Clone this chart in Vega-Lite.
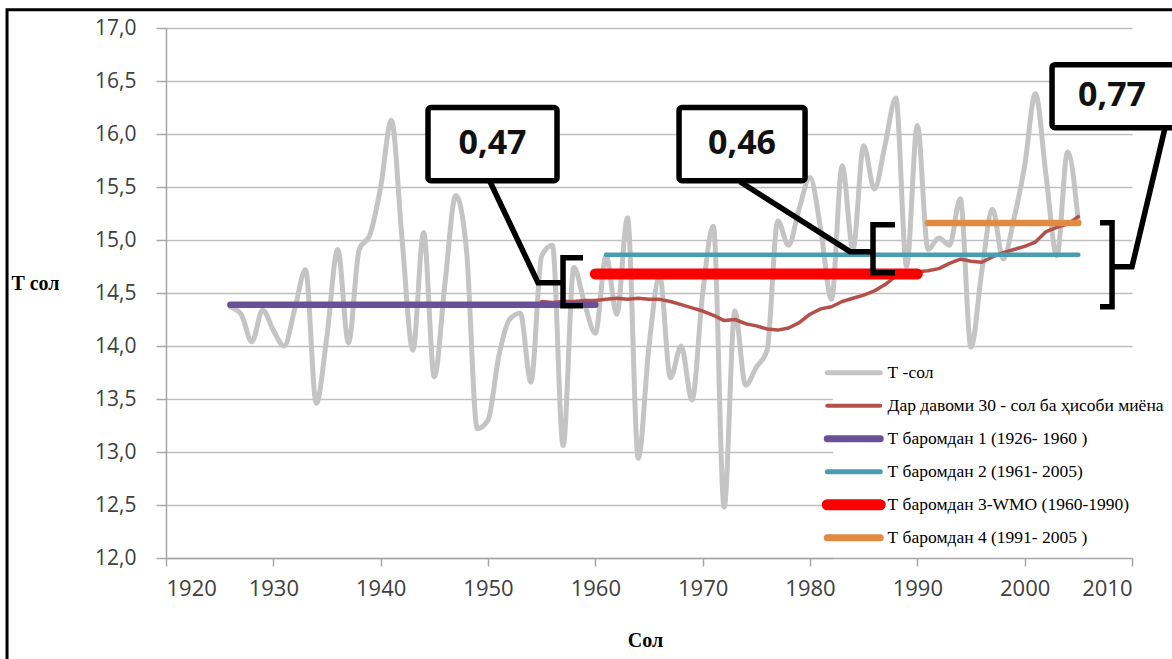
{
  "$schema": "https://vega.github.io/schema/vega-lite/v6.json",
  "width": 966,
  "height": 530,
  "autosize": {"type": "none"},
  "padding": {"left": 166, "top": 28, "right": 40, "bottom": 101},
  "background": "white",
  "config": {
    "view": {"stroke": null},
    "legend": {
      "orient": "none",
      "legendX": 667,
      "legendY": 324,
      "fillColor": "#ffffff",
      "padding": 12,
      "symbolType": "stroke",
      "symbolSize": 2809,
      "labelFont": "Liberation Serif",
      "labelFontSize": 17.5,
      "labelColor": "#000000",
      "labelOffset": 25,
      "gridAlign": "all",
      "rowPadding": -12,
      "labelLimit": 400
    }
  },
  "datasets": {
    "lines": [
      {"series": "T", "year": 1926, "t": 14.37}, {"series": "T", "year": 1927, "t": 14.30}, {"series": "T", "year": 1928, "t": 14.04}, {"series": "T", "year": 1929, "t": 14.34}, {"series": "T", "year": 1930, "t": 14.15},
      {"series": "T", "year": 1931, "t": 14.00}, {"series": "T", "year": 1932, "t": 14.35}, {"series": "T", "year": 1933, "t": 14.72}, {"series": "T", "year": 1934, "t": 13.46}, {"series": "T", "year": 1935, "t": 14.10},
      {"series": "T", "year": 1936, "t": 14.91}, {"series": "T", "year": 1937, "t": 14.03}, {"series": "T", "year": 1938, "t": 14.91}, {"series": "T", "year": 1939, "t": 15.05}, {"series": "T", "year": 1940, "t": 15.50},
      {"series": "T", "year": 1941, "t": 16.13}, {"series": "T", "year": 1942, "t": 15.00}, {"series": "T", "year": 1943, "t": 13.96}, {"series": "T", "year": 1944, "t": 15.07}, {"series": "T", "year": 1945, "t": 13.71},
      {"series": "T", "year": 1946, "t": 14.60}, {"series": "T", "year": 1947, "t": 15.42}, {"series": "T", "year": 1948, "t": 14.90}, {"series": "T", "year": 1949, "t": 13.22}, {"series": "T", "year": 1950, "t": 13.30},
      {"series": "T", "year": 1951, "t": 13.90}, {"series": "T", "year": 1952, "t": 14.25}, {"series": "T", "year": 1953, "t": 14.31}, {"series": "T", "year": 1954, "t": 13.66}, {"series": "T", "year": 1955, "t": 14.85},
      {"series": "T", "year": 1956, "t": 14.95}, {"series": "T", "year": 1957, "t": 13.06}, {"series": "T", "year": 1958, "t": 14.74}, {"series": "T", "year": 1959, "t": 14.40}, {"series": "T", "year": 1960, "t": 14.12},
      {"series": "T", "year": 1961, "t": 14.85}, {"series": "T", "year": 1962, "t": 14.30}, {"series": "T", "year": 1963, "t": 15.21}, {"series": "T", "year": 1964, "t": 12.94}, {"series": "T", "year": 1965, "t": 14.00},
      {"series": "T", "year": 1966, "t": 14.66}, {"series": "T", "year": 1967, "t": 13.70}, {"series": "T", "year": 1968, "t": 14.00}, {"series": "T", "year": 1969, "t": 13.49}, {"series": "T", "year": 1970, "t": 14.50},
      {"series": "T", "year": 1971, "t": 15.13}, {"series": "T", "year": 1972, "t": 12.48}, {"series": "T", "year": 1973, "t": 14.33}, {"series": "T", "year": 1974, "t": 13.63}, {"series": "T", "year": 1975, "t": 13.80},
      {"series": "T", "year": 1976, "t": 13.96}, {"series": "T", "year": 1977, "t": 15.18}, {"series": "T", "year": 1978, "t": 14.95}, {"series": "T", "year": 1979, "t": 15.30}, {"series": "T", "year": 1980, "t": 15.59},
      {"series": "T", "year": 1981, "t": 15.10}, {"series": "T", "year": 1982, "t": 14.44}, {"series": "T", "year": 1983, "t": 15.70}, {"series": "T", "year": 1984, "t": 14.91}, {"series": "T", "year": 1985, "t": 15.89},
      {"series": "T", "year": 1986, "t": 15.48}, {"series": "T", "year": 1987, "t": 15.90}, {"series": "T", "year": 1988, "t": 16.34}, {"series": "T", "year": 1989, "t": 14.75}, {"series": "T", "year": 1990, "t": 16.08},
      {"series": "T", "year": 1991, "t": 14.91}, {"series": "T", "year": 1992, "t": 15.02}, {"series": "T", "year": 1993, "t": 14.95}, {"series": "T", "year": 1994, "t": 15.39}, {"series": "T", "year": 1995, "t": 13.99},
      {"series": "T", "year": 1996, "t": 14.70}, {"series": "T", "year": 1997, "t": 15.29}, {"series": "T", "year": 1998, "t": 14.82}, {"series": "T", "year": 1999, "t": 15.20}, {"series": "T", "year": 2000, "t": 15.70},
      {"series": "T", "year": 2001, "t": 16.38}, {"series": "T", "year": 2002, "t": 15.60}, {"series": "T", "year": 2003, "t": 14.85}, {"series": "T", "year": 2004, "t": 15.83}, {"series": "T", "year": 2005, "t": 15.17},
      {"series": "MA", "year": 1955, "t": 14.42}, {"series": "MA", "year": 1956, "t": 14.41}, {"series": "MA", "year": 1957, "t": 14.42}, {"series": "MA", "year": 1958, "t": 14.42}, {"series": "MA", "year": 1959, "t": 14.43},
      {"series": "MA", "year": 1960, "t": 14.43}, {"series": "MA", "year": 1961, "t": 14.44}, {"series": "MA", "year": 1962, "t": 14.45}, {"series": "MA", "year": 1963, "t": 14.44}, {"series": "MA", "year": 1964, "t": 14.45},
      {"series": "MA", "year": 1965, "t": 14.44}, {"series": "MA", "year": 1966, "t": 14.44}, {"series": "MA", "year": 1967, "t": 14.42}, {"series": "MA", "year": 1968, "t": 14.39}, {"series": "MA", "year": 1969, "t": 14.36},
      {"series": "MA", "year": 1970, "t": 14.33}, {"series": "MA", "year": 1971, "t": 14.29}, {"series": "MA", "year": 1972, "t": 14.24}, {"series": "MA", "year": 1973, "t": 14.25}, {"series": "MA", "year": 1974, "t": 14.21},
      {"series": "MA", "year": 1975, "t": 14.19}, {"series": "MA", "year": 1976, "t": 14.16}, {"series": "MA", "year": 1977, "t": 14.15}, {"series": "MA", "year": 1978, "t": 14.17}, {"series": "MA", "year": 1979, "t": 14.22},
      {"series": "MA", "year": 1980, "t": 14.30}, {"series": "MA", "year": 1981, "t": 14.35}, {"series": "MA", "year": 1982, "t": 14.37}, {"series": "MA", "year": 1983, "t": 14.42}, {"series": "MA", "year": 1984, "t": 14.45},
      {"series": "MA", "year": 1985, "t": 14.48}, {"series": "MA", "year": 1986, "t": 14.52}, {"series": "MA", "year": 1987, "t": 14.58}, {"series": "MA", "year": 1988, "t": 14.66}, {"series": "MA", "year": 1989, "t": 14.68},
      {"series": "MA", "year": 1990, "t": 14.70}, {"series": "MA", "year": 1991, "t": 14.71}, {"series": "MA", "year": 1992, "t": 14.73}, {"series": "MA", "year": 1993, "t": 14.78}, {"series": "MA", "year": 1994, "t": 14.82},
      {"series": "MA", "year": 1995, "t": 14.80}, {"series": "MA", "year": 1996, "t": 14.79}, {"series": "MA", "year": 1997, "t": 14.84}, {"series": "MA", "year": 1998, "t": 14.88}, {"series": "MA", "year": 1999, "t": 14.91},
      {"series": "MA", "year": 2000, "t": 14.94}, {"series": "MA", "year": 2001, "t": 14.98}, {"series": "MA", "year": 2002, "t": 15.08}, {"series": "MA", "year": 2003, "t": 15.12}, {"series": "MA", "year": 2004, "t": 15.15},
      {"series": "MA", "year": 2005, "t": 15.22},
      {"series": "B1", "year": 1926, "t": 14.39}, {"series": "B1", "year": 1960, "t": 14.39},
      {"series": "B2", "year": 1961, "t": 14.86}, {"series": "B2", "year": 2005, "t": 14.86},
      {"series": "B3", "year": 1960, "t": 14.68}, {"series": "B3", "year": 1990, "t": 14.68},
      {"series": "B4", "year": 1991, "t": 15.16}, {"series": "B4", "year": 2005, "t": 15.16}
    ],
    "annot": [
      {"id": "c1", "ord": 1, "year": 1950.19, "t": 15.55}, {"id": "c1", "ord": 2, "year": 1954.66, "t": 14.597}, {"id": "c1", "ord": 3, "year": 1956.99, "t": 14.597},
      {"id": "b1", "ord": 1, "year": 1958.85, "t": 14.833}, {"id": "b1", "ord": 2, "year": 1956.99, "t": 14.833}, {"id": "b1", "ord": 3, "year": 1956.99, "t": 14.38}, {"id": "b1", "ord": 4, "year": 1958.85, "t": 14.38},
      {"id": "c2", "ord": 1, "year": 1973.48, "t": 15.55}, {"id": "c2", "ord": 2, "year": 1983.73, "t": 14.89}, {"id": "c2", "ord": 3, "year": 1985.87, "t": 14.89},
      {"id": "b2", "ord": 1, "year": 1987.92, "t": 15.144}, {"id": "b2", "ord": 2, "year": 1985.87, "t": 15.144}, {"id": "b2", "ord": 3, "year": 1985.87, "t": 14.692}, {"id": "b2", "ord": 4, "year": 1987.92, "t": 14.692},
      {"id": "c3", "ord": 1, "year": 2013.08, "t": 16.059}, {"id": "c3", "ord": 2, "year": 2010.0, "t": 14.748}, {"id": "c3", "ord": 3, "year": 2008.14, "t": 14.748},
      {"id": "b3", "ord": 1, "year": 2007.02, "t": 15.163}, {"id": "b3", "ord": 2, "year": 2008.14, "t": 15.163}, {"id": "b3", "ord": 3, "year": 2008.14, "t": 14.37}, {"id": "b3", "ord": 4, "year": 2007.02, "t": 14.37}
    ],
    "boxes": [
      {"year": 1944.41, "year2": 1956.43, "t": 16.25, "t2": 15.56},
      {"year": 1967.80, "year2": 1979.54, "t": 16.25, "t2": 15.56},
      {"year": 2002.55, "year2": 2016.0, "t": 16.654, "t2": 16.059}
    ],
    "labels": [
      {"label": "0,47", "year": 1950.42, "t": 15.905},
      {"label": "0,46", "year": 1973.67, "t": 15.905},
      {"label": "0,77", "year": 2008.14, "t": 16.356}
    ],
    "frame": [
      {"year": 1905.19, "year2": 2030, "t": 17.173, "t2": 10.0}
    ]
  },
  "encoding": {
    "x": {
      "field": "year",
      "type": "quantitative",
      "scale": {"domain": [1920, 2010], "nice": false, "zero": false},
      "axis": {
        "values": [1920, 1930, 1940, 1950, 1960, 1970, 1980, 1990, 2000, 2010],
        "format": "d",
        "grid": false,
        "zindex": 3,
        "domainColor": "#a6a6a6",
        "domainWidth": 1.5,
        "tickColor": "#a6a6a6",
        "tickWidth": 1.5,
        "tickSize": 8,
        "labelFont": "Open Sans",
        "labelFontSize": 22,
        "labelColor": "#404040",
        "labelPadding": 12,
        "title": "Сол",
        "titleFont": "Liberation Serif",
        "titleFontWeight": "bold",
        "titleFontSize": 20,
        "titleColor": "#000000",
        "titleX": 479,
        "titleY": 82,
        "titleAlign": "center",
        "titleBaseline": "middle"
      }
    },
    "y": {
      "field": "t",
      "type": "quantitative",
      "scale": {"domain": [12, 17], "nice": false, "zero": false},
      "axis": {
        "values": [12, 12.5, 13, 13.5, 14, 14.5, 15, 15.5, 16, 16.5, 17],
        "labelExpr": "replace(format(datum.value, '.1f'), '.', ',')",
        "grid": true,
        "gridColor": "#bfbfbf",
        "gridWidth": 1.5,
        "domainColor": "#a6a6a6",
        "domainWidth": 1.5,
        "tickColor": "#a6a6a6",
        "tickWidth": 1.5,
        "tickSize": 10,
        "labelFont": "Open Sans",
        "labelFontSize": 21,
        "labelColor": "#404040",
        "labelPadding": 20,
        "title": "Т сол",
        "titleAngle": 0,
        "titleFont": "Liberation Serif",
        "titleFontWeight": "bold",
        "titleFontSize": 20,
        "titleColor": "#000000",
        "titleX": -131,
        "titleY": 255,
        "titleAlign": "center",
        "titleBaseline": "middle"
      }
    }
  },
  "layer": [
    {
      "data": {"name": "frame"},
      "mark": {"type": "rect", "fill": null, "stroke": "#000000", "strokeWidth": 3},
      "encoding": {"x2": {"field": "year2"}, "y2": {"field": "t2"}}
    },
    {
      "data": {"name": "lines"},
      "transform": [{"filter": "datum.series === 'T'"}],
      "mark": {"type": "line", "interpolate": "monotone", "strokeCap": "round", "strokeJoin": "round", "strokeWidth": 5},
      "encoding": {
        "color": {
          "field": "series", "type": "nominal",
          "scale": {"domain": ["T", "MA", "B1", "B2", "B3", "B4"], "range": ["#c4c4c4", "#b4504a", "#6a5096", "#4a9cb2", "#ff0000", "#e08a42"]},
          "legend": {
            "title": null,
            "labelExpr": "datum.label === 'T' ? '\u00a0\u00a0\u00a0Т -сол' : datum.label === 'MA' ? 'Дар давоми 30 - сол ба ҳисоби миёна' : datum.label === 'B1' ? 'Т баромдан 1 (1926- 1960 )' : datum.label === 'B2' ? 'Т баромдан 2 (1961- 2005)' : datum.label === 'B3' ? '\u00a0\u00a0Т баромдан 3-WMO (1960-1990)' : '\u00a0\u00a0Т баромдан 4 (1991- 2005 )'",
            "encode": {
              "symbols": {
                "update": {
                  "strokeWidth": {"signal": "datum.value === 'T' ? 5 : datum.value === 'MA' ? 4 : datum.value === 'B1' ? 7 : datum.value === 'B2' ? 5 : datum.value === 'B3' ? 11 : 7"},
                  "strokeCap": {"value": "round"}
                }
              }
            }
          }
        }
      }
    },
    {
      "data": {"name": "lines"},
      "transform": [{"filter": "datum.series === 'MA'"}],
      "mark": {"type": "line", "strokeCap": "round", "strokeJoin": "round", "strokeWidth": 3.5},
      "encoding": {"color": {"field": "series", "type": "nominal"}}
    },
    {
      "data": {"name": "lines"},
      "transform": [{"filter": "datum.series === 'B1'"}],
      "mark": {"type": "line", "strokeCap": "round", "strokeWidth": 6.5},
      "encoding": {"color": {"field": "series", "type": "nominal"}}
    },
    {
      "data": {"name": "lines"},
      "transform": [{"filter": "datum.series === 'B2'"}],
      "mark": {"type": "line", "strokeCap": "round", "strokeWidth": 4.5},
      "encoding": {"color": {"field": "series", "type": "nominal"}}
    },
    {
      "data": {"name": "lines"},
      "transform": [{"filter": "datum.series === 'B3'"}],
      "mark": {"type": "line", "strokeCap": "round", "strokeWidth": 11},
      "encoding": {"color": {"field": "series", "type": "nominal"}}
    },
    {
      "data": {"name": "lines"},
      "transform": [{"filter": "datum.series === 'B4'"}],
      "mark": {"type": "line", "strokeCap": "round", "strokeWidth": 6.5},
      "encoding": {"color": {"field": "series", "type": "nominal"}}
    },
    {
      "data": {"name": "annot"},
      "mark": {"type": "line", "color": "#000000", "strokeWidth": 5.5, "strokeJoin": "miter"},
      "encoding": {"detail": {"field": "id"}, "order": {"field": "ord"}}
    },
    {
      "data": {"name": "boxes"},
      "mark": {"type": "rect", "fill": "#ffffff", "stroke": "#000000", "strokeWidth": 5.5, "cornerRadius": 3},
      "encoding": {"x2": {"field": "year2"}, "y2": {"field": "t2"}}
    },
    {
      "data": {"name": "labels"},
      "mark": {"type": "text", "font": "Open Sans", "fontWeight": "bold", "fontSize": 34, "color": "#111111", "align": "center", "baseline": "middle"},
      "encoding": {"text": {"field": "label"}}
    }
  ]
}
